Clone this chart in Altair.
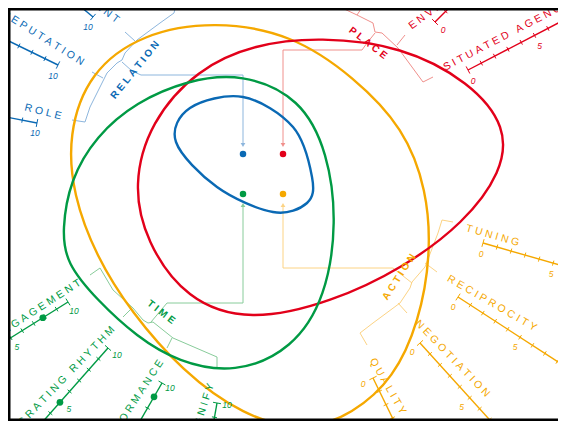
import altair as alt
import pandas as pd
import numpy as np

BLUE, RED, GREEN, ORANGE = "#0a69b4", "#e2001a", "#009a44", "#f5a800"
LBLUE, LRED, LGREEN, LORANGE = "#8db6dd", "#f0908c", "#88cc9a", "#fcd384"
FONT = "Liberation Sans"

# ---------------- closed outlines (spline control points, picture pixels) ----------------
orange_x = [215, 292, 354, 404, 427, 431, 419, 394, 353, 305, 243, 182, 131, 96, 73, 68, 89, 143]
orange_y = [21, 34, 77, 128, 190, 255, 322, 378, 414, 432, 416, 371, 312, 256, 195, 135, 72, 33]
red_x = [320, 402, 470, 507, 502, 464, 403, 332, 250, 186, 146, 133, 150, 197, 255]
red_y = [37, 46, 82, 127, 172, 223, 268, 302, 322, 300, 242, 185, 122, 69, 44]
green_x = [242, 301, 328, 337, 326, 293, 235, 178, 137, 97, 66, 62, 70, 96, 136, 188]
green_y = [73, 98, 153, 222, 297, 349, 374, 362, 337, 300, 263, 230, 180, 136, 102, 80]
blue_x = [243, 293, 312, 307, 273, 217, 176, 190]
blue_y = [97, 127, 177, 203, 212, 187, 142, 108]

curve_color = [ORANGE, RED, GREEN, BLUE]
curve_xs = [orange_x, red_x, green_x, blue_x]
curve_ys = [orange_y, red_y, green_y, blue_y]

# ---------------- centre dots ----------------
dot_x = [243, 283, 243, 283]
dot_y = [154, 154, 194, 194]
dot_color = [BLUE, RED, GREEN, ORANGE]

# ---------------- thin connectors / brackets ----------------
paths = {
    "blue_br": (LBLUE, [176, 174, 160, 137, 125, 122, 117, 107, 100, 90, 85, 72],
                        [5, 13, 23, 40, 53, 60, 63, 73, 87, 107, 122, 120]),
    "blue_t1": (LBLUE, [125, 135], [32, 41]),
    "blue_t2": (LBLUE, [92, 103], [72, 78]),
    "blue_pt": (LBLUE, [122, 132, 141, 243, 243], [62, 71, 75, 75, 143]),
    "red_br": (LRED, [340, 357, 373, 375, 382, 398, 423, 433], [7, 15, 23, 32, 33, 48, 82, 77]),
    "red_t1": (LRED, [357, 363], [15, 6]),
    "red_t2": (LRED, [397, 405], [45, 35]),
    "red_pt": (LRED, [375, 367, 362, 283, 283], [33, 43, 50, 50, 143]),
    "green_br": (LGREEN, [90, 100, 113, 133, 143, 148, 153, 173, 217, 217],
                          [275, 268, 290, 308, 320, 323, 322, 338, 357, 368]),
    "green_t1": (LGREEN, [123, 132], [317, 308]),
    "green_t2": (LGREEN, [167, 172], [348, 338]),
    "green_pt": (LGREEN, [151, 167, 243, 243], [322, 303, 303, 207]),
    "orange_br": (LORANGE, [453, 442, 438, 425, 412, 410, 400, 373, 360, 367],
                           [222, 220, 233, 267, 282, 288, 303, 323, 333, 345]),
    "orange_t1": (LORANGE, [425, 437], [263, 272]),
    "orange_t2": (LORANGE, [398, 407], [303, 313]),
    "orange_pt": (LORANGE, [412, 393, 283, 283], [283, 268, 268, 207]),
}
arrow_x = [243, 283, 243, 283]
arrow_y = [145, 145, 205, 205]
arrow_shape = ["triangle-down", "triangle-down", "triangle-up", "triangle-up"]
arrow_color = [LBLUE, LRED, LGREEN, LORANGE]

# ---------------- category labels ----------------
cat_text = ["RELATION", "PLACE", "TIME", "ACTION"]
cat_x = [135, 368, 161, 399]
cat_y = [70, 43, 312, 277]
cat_angle = [-51, 38, 38, -57]
cat_color = [BLUE, RED, GREEN, ORANGE]

# ---------------- scale bars ----------------
ax_name = ["ROLE", "REPUTATION", "COMMITMENT", "ENVIRONMENT", "SITUATED AGENCY", "TUNING",
           "RECIPROCITY", "NEGOTIATION", "QUALITY", "ENGAGEMENT", "INTEGRATING RHYTHM",
           "PERFORMANCE", "SIGNIFY"]
ax_color = [BLUE, BLUE, BLUE, RED, RED, ORANGE, ORANGE, ORANGE, ORANGE, GREEN, GREEN, GREEN, GREEN]
ax_anchor_x = [37, 58, 93, 435, 468, 483, 458, 420, 373, 68, 108, 162, 217]
ax_anchor_y = [123, 65, 17, 22, 70, 243, 297, 343, 378, 302, 348, 383, 403]
ax_anchor_v = [10, 10, 10, 0, 0, 0, 0, 0, 0, 10, 10, 10, 10]
ax_theta = [11, 26, 40, -45, -27.5, 16, 33, 47.8, 64, -32, -48.5, -60, -80]
ax_unit = [15, 14.5, 14.5, 15, 15, 14.6, 14.8, 14.8, 14.8, 13.5, 14.5, 14.5, 14.5]
ax_loff_x = [-2, -5, -5, 8, 5, -2, -5, -8, -10, 6, 9, 8, 10]
ax_loff_y = [10, 11, 10, 8, 11, 11, 10, 9, 6, 9, 7, 5, 2]
ax_dot = [None, None, None, None, None, None, None, None, None, 7.8, 5, 8.9, None]
tick_values = list(range(0, 11))
tick_labels = [0, 5, 10]
lab_x = [43, 83, 118, 410, 444, 466, 448, 417, 372, 80, 113, 161, 211]
lab_y = [112, 63, 21, 27, 68, 228, 278, 322, 359, 282, 328, 361, 384]
lab_angle = [14, 32, 37, -36, -27.5, 16, 30, 46, 60, -33, -46, -57, -72]
lab_align = ["center", "right", "right", "left", "left", "left", "left", "left", "left",
             "right", "right", "right", "right"]

SEP = "\u2009\u200a"


def track(s):
    return SEP.join(list(s))


def ang(a):
    return a % 360


# ---------- build tables ----------
crows = []
for k, (xs, ys) in enumerate(zip(curve_xs, curve_ys)):
    for i, (x, y) in enumerate(zip(xs, ys)):
        crows.append(dict(id=k, i=i, x=x, y=y, c=curve_color[k]))
curves = pd.DataFrame(crows)

prows = []
for name, (col, xs, ys) in paths.items():
    for i, (x, y) in enumerate(zip(xs, ys)):
        prows.append(dict(id=name, i=i, x=x, y=y, c=col))
conn = pd.DataFrame(prows)

arrows = pd.DataFrame(dict(x=arrow_x, y=arrow_y, s=arrow_shape, c=arrow_color))
dots = pd.DataFrame(dict(x=dot_x, y=dot_y, c=dot_color))
cats = pd.DataFrame(dict(x=cat_x, y=cat_y, a=[ang(a) for a in cat_angle],
                         t=[track(t) for t in cat_text], c=cat_color))

line_rows, tick_rows, tlab_rows, adot_rows = [], [], [], []
for k in range(len(ax_name)):
    th = np.deg2rad(ax_theta[k])
    d = np.array([np.cos(th), np.sin(th)])
    n = np.array([-np.sin(th), np.cos(th)])
    a = np.array([ax_anchor_x[k], ax_anchor_y[k]], dtype=float)

    def pos(v):
        return a + (v - ax_anchor_v[k]) * ax_unit[k] * d

    p0, p1 = pos(0), pos(10)
    line_rows.append(dict(x=p0[0], y=p0[1], x2=p1[0], y2=p1[1], c=ax_color[k]))
    for v in tick_values:
        h = 4.0 if v in (0, 10) else 2.6
        p = pos(v)
        q1, q2 = p + h * n, p - h * n
        tick_rows.append(dict(x=q1[0], y=q1[1], x2=q2[0], y2=q2[1], c=ax_color[k]))
    for v in tick_labels:
        p = pos(v)
        tlab_rows.append(dict(x=p[0] + ax_loff_x[k], y=p[1] + ax_loff_y[k], t=str(v), c=ax_color[k]))
    if ax_dot[k] is not None:
        p = pos(ax_dot[k])
        adot_rows.append(dict(x=p[0], y=p[1], c=ax_color[k]))

axlines = pd.DataFrame(line_rows)
ticks = pd.DataFrame(tick_rows)
tlabs = pd.DataFrame(tlab_rows)
adots = pd.DataFrame(adot_rows)
names = pd.DataFrame(dict(x=lab_x, y=lab_y, a=[ang(a) for a in lab_angle],
                          t=[track(t) for t in ax_name], c=ax_color, al=lab_align))

frame = pd.DataFrame(dict(x=[8, 9, 8], y=[9, 8, 420], x2=[558, 9, 558], y2=[9, 421, 420]))

XS = alt.Scale(domain=[8, 558], nice=False, zero=False)
YS = alt.Scale(domain=[8, 421], nice=False, zero=False, reverse=True)
X = alt.X("x:Q", scale=XS, axis=None)
Y = alt.Y("y:Q", scale=YS, axis=None)
C = alt.Color("c:N", scale=None)

base_conn = alt.Chart(conn).mark_line(strokeWidth=1, clip=True).encode(
    x=X, y=Y, color=C, detail="id:N", order="i:Q")

big = curves[curves.id < 3]
small = curves[curves.id == 3]
curve_layer = alt.Chart(big).mark_line(interpolate="basis-closed", strokeWidth=2.4, clip=True).encode(
    x=X, y=Y, color=C, detail="id:N", order="i:Q")
blue_layer = alt.Chart(small).mark_line(interpolate="cardinal-closed", strokeWidth=2.4, clip=True).encode(
    x=X, y=Y, color=C, detail="id:N", order="i:Q")

arrow_layer = alt.Chart(arrows).mark_point(filled=True, size=22, opacity=1).encode(
    x=X, y=Y, color=C, shape=alt.Shape("s:N", scale=None))

dot_layer = alt.Chart(dots).mark_circle(size=42, opacity=1).encode(x=X, y=Y, color=C)

axline_layer = alt.Chart(axlines).mark_rule(strokeWidth=1.4, clip=True).encode(
    x=X, y=Y, x2="x2:Q", y2="y2:Q", color=C)
tick_layer = alt.Chart(ticks).mark_rule(strokeWidth=1, clip=True).encode(
    x=X, y=Y, x2="x2:Q", y2="y2:Q", color=C)
adot_layer = alt.Chart(adots).mark_circle(size=45, opacity=1, clip=True).encode(x=X, y=Y, color=C)
tlab_layer = alt.Chart(tlabs).mark_text(font=FONT, fontSize=8.5, fontStyle="italic", clip=True,
                                        baseline="middle", align="center").encode(
    x=X, y=Y, text="t:N", color=C)

name_layers = []
for al in ["left", "center", "right"]:
    sub = names[names.al == al]
    name_layers.append(alt.Chart(sub).mark_text(font=FONT, fontSize=10.5, align=al, baseline="middle",
                                                clip=True).encode(
        x=X, y=Y, text="t:N", color=C, angle=alt.Angle("a:Q", scale=None)))

cat_layer = alt.Chart(cats).mark_text(font=FONT, fontSize=10, fontWeight="bold", align="center",
                                      baseline="middle", clip=True).encode(
    x=X, y=Y, text="t:N", color=C, angle=alt.Angle("a:Q", scale=None))

frame_layer = alt.Chart(frame).mark_rule(strokeWidth=3, color="black").encode(
    x=X, y=Y, x2="x2:Q", y2="y2:Q")

chart = alt.layer(
    base_conn, arrow_layer, curve_layer, blue_layer, dot_layer,
    axline_layer, tick_layer, adot_layer, tlab_layer, *name_layers, cat_layer, frame_layer
).properties(
    width=550, height=413, padding=0, autosize=alt.AutoSizeParams(type="none")
).configure_view(stroke=None).configure(background="white")

chart.save("out.html", embed_options={"renderer": "svg", "actions": False})
